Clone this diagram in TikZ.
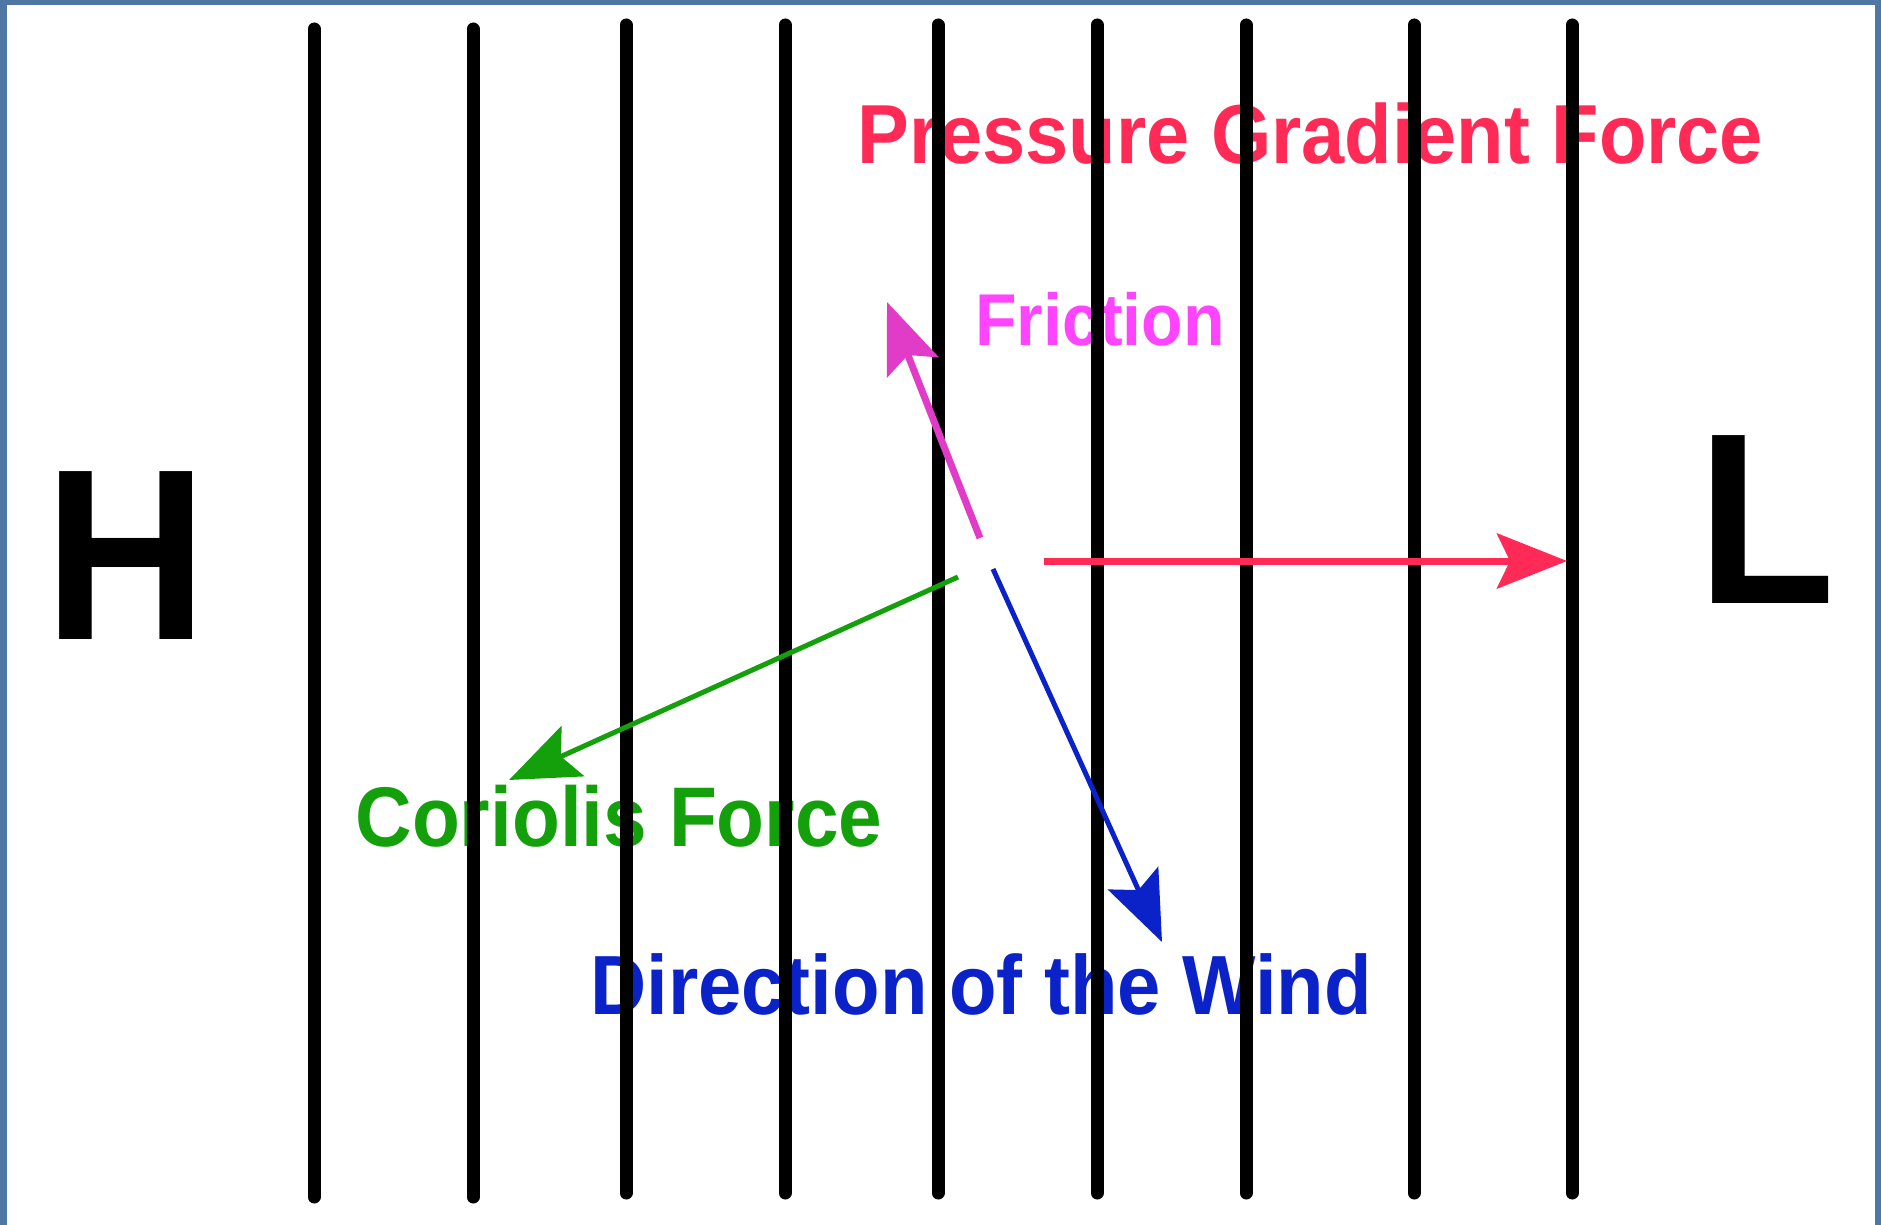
\documentclass[tikz,border=0pt]{standalone}
\usepackage{fontspec}
\setmainfont{Liberation Sans}
\usetikzlibrary{arrows.meta}

\definecolor{frameblue}{HTML}{4F77A3}
\definecolor{pgfred}{HTML}{FF2A55}
\definecolor{fricpink}{HTML}{FF44FF}
\definecolor{fricarrow}{HTML}{E03CC8}
\definecolor{corgreen}{HTML}{14A00A}
\definecolor{windblue}{HTML}{0A22C8}

% letters of the original are a little taller than Arial
\newcommand{\vstretch}[1]{\scalebox{1}[1.08]{#1}}

\begin{document}
\begin{tikzpicture}[
    x=0.5pt, y=-0.5pt,
    isobar/.style={line width=6.5pt, line cap=round, draw=black},
    force/.style={-{Stealth[length=35pt, width=27.5pt, inset=6.5pt]}},
    forcetext/.style={inner sep=0pt, anchor=base west, font=\fontsize{39.2}{46}\selectfont\bfseries},
    pressure/.style={inner sep=0pt, font=\fontsize{113}{130}\selectfont\bfseries}
]

% ---- Frame ----
\fill[frameblue] (0,0) rectangle (1881,1225);
\fill[white] (7,5) rectangle (1875,1225);

% ---- Pressure centres and labels ----
\node[pressure, anchor=base] (high) at (126,639) {\vstretch{H}};
\node[pressure, anchor=base west] (low) at (1697,603) {\vstretch{L}};

\node[forcetext, text=pgfred, font=\fontsize{38.8}{46}\selectfont\bfseries] (pgf_text) at (857,164) {\vstretch{Pressure Gradient Force}};
\node[forcetext, text=fricpink, font=\fontsize{34}{40}\selectfont\bfseries] (fric_text) at (975,346) {\vstretch{Friction}};
\node[forcetext, text=corgreen] (cor_text) at (355,846) {\vstretch{Coriolis Force}};
\node[forcetext, text=windblue, font=\fontsize{38.9}{46}\selectfont\bfseries] (wind_text) at (590,1014) {\vstretch{Direction of the Wind}};

% ---- Isobars ----
\draw[isobar] (314,29) -- (314,1197);
\draw[isobar] (473,29) -- (473,1197);
\draw[isobar] (626,25) -- (626,1193);
\draw[isobar] (785,25) -- (785,1193);
\draw[isobar] (938,25) -- (938,1193);
\draw[isobar] (1097,25) -- (1097,1193);
\draw[isobar] (1246,25) -- (1246,1193);
\draw[isobar] (1414,25) -- (1414,1193);
\draw[isobar] (1572,25) -- (1572,1193);

% ---- Force vectors ----
\coordinate (pgf_tail) at (1044,561);
\coordinate (pgf_tip) at (1567,561);
\coordinate (fric_tail) at (980,538);
\coordinate (fric_tip) at (887,302);
\coordinate (cor_tail) at (958,577);
\coordinate (cor_tip) at (509,780);
\coordinate (wind_tail) at (993,569);
\coordinate (wind_tip) at (1162,942);

\draw[force, draw=pgfred, fill=pgfred, line width=3.5pt] (pgf_tail) -- (pgf_tip);
\draw[force, draw=fricarrow, fill=fricarrow, line width=3.5pt] (fric_tail) -- (fric_tip);
\draw[force, draw=corgreen, fill=corgreen, line width=2.5pt] (cor_tail) -- (cor_tip);
\draw[force, draw=windblue, fill=windblue, line width=2.5pt] (wind_tail) -- (wind_tip);

\end{tikzpicture}
\end{document}
